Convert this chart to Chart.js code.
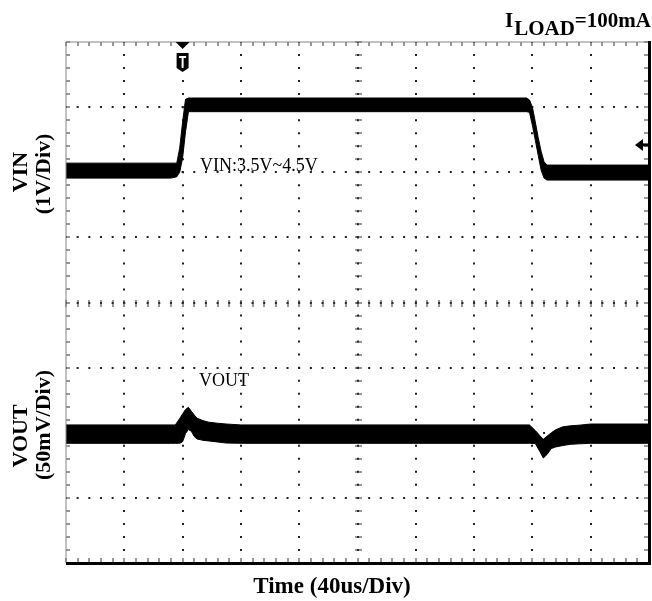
<!DOCTYPE html>
<html lang="en">
<head>
<meta charset="UTF-8">
<title>VIN / VOUT Line Transient</title>
<script src="https://cdn.jsdelivr.net/npm/chart.js"></script>
<style>
  body { margin: 0; background: #fff; }
  #wrap { width: 652px; height: 601px; }
</style>
</head>
<body>
<div id="wrap"><canvas id="scope" width="652" height="601"></canvas></div>
<script>
// time base 40us/div, 10 divisions; 8 vertical divisions
const timeMin = 0, timeMax = 400, timeStep = 40;
const divMin = 0, divMax = 8;

// VIN trace, 1V/div (3.5V sits on division 6). upper / lower edge of the noisy band
const vinTime  = [0, 72, 76, 78, 80, 82, 84, 86, 316, 318, 320, 322, 324, 326, 328, 330, 400];
const vinUpper = [3.64, 3.64, 3.64, 3.87, 4.27, 4.62, 4.64, 4.64, 4.64, 4.61, 4.50, 4.27, 4.03, 3.82, 3.66, 3.61, 3.61];
const vinLower = [3.41, 3.41, 3.43, 3.50, 3.72, 4.12, 4.43, 4.43, 4.43, 4.42, 4.22, 3.99, 3.76, 3.53, 3.41, 3.38, 3.38];

// VOUT trace, 50mV/div, deviation in mV (0 sits on division 2)
const outTime  = [0, 75, 78, 80, 82, 84, 86, 88, 90, 94, 98, 104, 110, 120, 318, 322, 325, 327.5, 330, 333, 336, 341, 346, 352, 360, 400];
const outUpper = [6.0, 6.0, 10.9, 14.4, 17.9, 19.5, 16.5, 13.6, 11.1, 9.3, 8.1, 7.3, 6.7, 6.0, 6.0, 1.7, -2.1, -5.0, -2.7, 0.0, 2.3, 4.6, 5.3, 5.8, 6.7, 6.7];
const outLower = [-8.1, -8.1, -8.1, -6.9, -0.6, 2.5, 1.1, -2.9, -4.8, -5.8, -6.3, -7.1, -7.9, -8.1, -8.1, -8.3, -14.2, -19.4, -16.7, -12.1, -10.9, -9.8, -8.9, -8.5, -8.1, -8.1];

const triggerTime = 80;     // T marker
const levelMarkVin = 3.92;  // arrow on the right edge

const SERIF = "'Liberation Serif', 'DejaVu Serif', serif";

function pts(xs, ys) {
    return xs.map((t, i) => ({ x: t, y: ys[i] }));
}

function edgeColor(last) {
    return ctx => (ctx.tick && (ctx.tick.value === 0 || ctx.tick.value === last)) ? 'rgba(0,0,0,0)' : '#222';
}

const scopeDecor = {
    id: 'scopeDecor',
    beforeDatasetsDraw(chart) {
        const { ctx, chartArea: a, scales: { x, div } } = chart;
        ctx.save();
        ctx.fillStyle = '#333';
        const cy = Math.round(div.getPixelForValue(4));
        const cx = Math.round(x.getPixelForValue(200));
        // minor ticks, 5 per division
        for (let t = timeMin; t <= timeMax; t += timeStep / 5) {
            const px = Math.round(x.getPixelForValue(t));
            ctx.fillRect(px - 0.5, a.top, 1, 4);
            ctx.fillRect(px - 0.5, a.bottom - 5, 1, 4);
            ctx.fillRect(px - 0.5, cy - 3, 1, 7);
        }
        for (let k = 0; k <= 40; k++) {
            const py = Math.round(div.getPixelForValue(k / 5));
            ctx.fillRect(a.left, py - 0.5, 4, 1);
            ctx.fillRect(a.right - 5, py - 0.5, 4, 1);
            ctx.fillRect(cx - 3, py - 0.5, 7, 1);
        }
        ctx.restore();
    },
    afterDatasetsDraw(chart) {
        const { ctx, chartArea: a, scales: { x, yVin } } = chart;
        ctx.save();
        // frame
        ctx.fillStyle = '#888';
        ctx.fillRect(a.left, a.top - 0.5, a.right - a.left, 1);
        ctx.fillRect(a.left - 0.5, a.top, 1, a.bottom - a.top);
        ctx.fillStyle = '#000';
        ctx.fillRect(a.left, a.bottom - 1, a.right - a.left + 2, 3);
        ctx.fillRect(a.right - 1, a.top - 1, 3, a.bottom - a.top + 3);

        // trigger marker
        const tx = x.getPixelForValue(triggerTime);
        ctx.beginPath();
        ctx.moveTo(tx - 7, a.top);
        ctx.lineTo(tx + 7, a.top);
        ctx.lineTo(tx, a.top + 7);
        ctx.closePath();
        ctx.fill();
        ctx.beginPath();
        ctx.moveTo(tx - 6, a.top + 11);
        ctx.lineTo(tx + 6, a.top + 11);
        ctx.lineTo(tx + 6, a.top + 26);
        ctx.lineTo(tx, a.top + 30);
        ctx.lineTo(tx - 6, a.top + 26);
        ctx.closePath();
        ctx.fill();
        ctx.fillStyle = '#fff';
        ctx.fillRect(tx - 3.5, a.top + 14, 7, 2);
        ctx.fillRect(tx - 1, a.top + 14, 2, 12);

        // level arrow on the right
        const ly = yVin.getPixelForValue(levelMarkVin);
        ctx.fillStyle = '#000';
        ctx.beginPath();
        ctx.moveTo(a.right - 14, ly);
        ctx.lineTo(a.right - 6, ly - 6);
        ctx.lineTo(a.right - 6, ly + 6);
        ctx.closePath();
        ctx.fill();
        ctx.fillRect(a.right - 7, ly - 1.5, 7, 3);
        ctx.restore();
    },
    afterDraw(chart) {
        const { ctx } = chart;
        ctx.save();
        ctx.fillStyle = '#000';
        ctx.textBaseline = 'alphabetic';

        // I_LOAD=100mA
        ctx.textAlign = 'left';
        ctx.font = 'bold 21px ' + SERIF;
        let px = 505;
        ctx.fillText('I', px, 27);
        px += ctx.measureText('I').width + 1;
        ctx.fillText('LOAD', px, 35);
        px += ctx.measureText('LOAD').width;
        ctx.fillText('=100mA', px, 27);

        // in-plot notes
        ctx.font = '18px ' + SERIF;
        ctx.fillText('VIN:3.5V~4.5V', 200, 171);
        ctx.fillText('VOUT', 199, 386);

        // x title
        ctx.textAlign = 'center';
        ctx.font = 'bold 23px ' + SERIF;
        ctx.fillText('Time (40us/Div)', 332, 593);

        // rotated channel labels
        ctx.font = 'bold 22px ' + SERIF;
        const vlabels = [['VIN', 27, 172], ['(1V/Div)', 50, 174], ['VOUT', 27, 436], ['(50mV/Div)', 50, 425]];
        vlabels.forEach(([txt, bx, by]) => {
            ctx.save();
            ctx.translate(bx, by);
            ctx.rotate(-Math.PI / 2);
            ctx.fillText(txt, 0, 0);
            ctx.restore();
        });
        ctx.restore();
    }
};

const band = {
    borderColor: '#000',
    borderWidth: 1,
    pointRadius: 0,
    tension: 0
};

new Chart(document.getElementById('scope'), {
    type: 'line',
    data: {
        datasets: [
            { ...band, label: 'VIN upper', data: pts(vinTime, vinUpper), yAxisID: 'yVin', fill: false },
            { ...band, label: 'VIN lower', data: pts(vinTime, vinLower), yAxisID: 'yVin', fill: '-1', backgroundColor: '#000' },
            { ...band, label: 'VOUT upper', data: pts(outTime, outUpper), yAxisID: 'yOut', fill: false },
            { ...band, label: 'VOUT lower', data: pts(outTime, outLower), yAxisID: 'yOut', fill: '-1', backgroundColor: '#000' }
        ]
    },
    options: {
        responsive: false,
        animation: false,
        layout: { padding: { left: 66, right: 3, top: 42, bottom: 38 } },
        plugins: { legend: { display: false }, tooltip: { enabled: false } },
        scales: {
            x: {
                type: 'linear', min: timeMin, max: timeMax,
                ticks: { display: false, stepSize: timeStep },
                grid: { color: edgeColor(timeMax), lineWidth: 2, drawTicks: false, tickLength: 0 },
                border: { display: false, dash: [2, 11.025], dashOffset: 1 },
                afterFit(s) { s.height = 0; }
            },
            div: {
                type: 'linear', position: 'left', min: divMin, max: divMax,
                ticks: { display: false, stepSize: 1 },
                grid: { color: edgeColor(divMax), lineWidth: 2, drawTicks: false, tickLength: 0 },
                border: { display: false, dash: [2, 9.66], dashOffset: 1 },
                afterFit(s) { s.width = 0; }
            },
            yVin: { display: false, min: -2.5, max: 5.5 },
            yOut: { display: false, min: -100, max: 300 }
        }
    },
    plugins: [scopeDecor]
});
</script>
</body>
</html>
